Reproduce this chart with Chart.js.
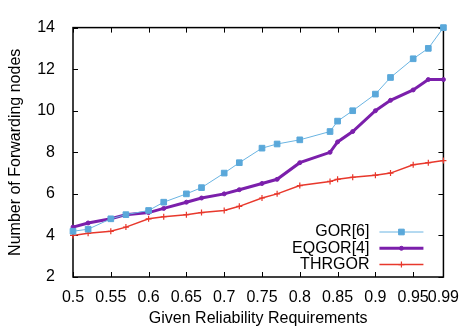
<!DOCTYPE html>
<html>
<head>
<meta charset="utf-8">
<title>Forwarding nodes vs reliability</title>
<script src="https://cdn.jsdelivr.net/npm/chart.js@4/dist/chart.umd.min.js"></script>
<style>
  html, body { margin: 0; padding: 0; background: #fff; }
  #wrap { width: 470px; height: 328px; }
</style>
</head>
<body>
<div id="wrap"><canvas id="chart" width="470" height="328"></canvas></div>
<script>
// ---- data ----
const reliability = [0.5, 0.52, 0.55, 0.57, 0.6, 0.62, 0.65, 0.67, 0.7, 0.72, 0.75,
                     0.77, 0.8, 0.84, 0.85, 0.87, 0.9, 0.92, 0.95, 0.97, 0.99];
const gorNodes    = [4.2, 4.3, 4.8, 5.0, 5.2, 5.6, 6.0, 6.3, 7.0, 7.5, 8.2,
                     8.4, 8.6, 9.0, 9.5, 10.0, 10.8, 11.6, 12.5, 13.0, 14.0];
const eqgorNodes  = [4.4, 4.6, 4.8, 5.0, 5.1, 5.3, 5.6, 5.8, 6.0, 6.2, 6.5,
                     6.7, 7.5, 8.0, 8.5, 9.0, 10.0, 10.5, 11.0, 11.5, 11.5];
const thrgorNodes = [4.0, 4.1, 4.2, 4.4, 4.8, 4.9, 5.0, 5.1, 5.2, 5.4, 5.8,
                     6.0, 6.4, 6.6, 6.7, 6.8, 6.9, 7.0, 7.4, 7.5, 7.6];
const seriesNames = ["GOR[6]", "EQGOR[4]", "THRGOR"];
const xTicks = [0.5, 0.55, 0.6, 0.65, 0.7, 0.75, 0.8, 0.85, 0.9, 0.95, 0.99];
const yTicks = [2, 4, 6, 8, 10, 12, 14];

const FONT = { family: "'Liberation Sans', Arial, sans-serif", size: 16 };

const toPoints = (ys) => reliability.map((x, i) => ({ x, y: ys[i] }));

// box frame with inward tick marks on all four sides (gnuplot look)
const framePlugin = {
  id: "frame",
  beforeDatasetsDraw(chart) {
    const { ctx, chartArea: a, scales } = chart;
    const len = 5;
    ctx.save();
    ctx.strokeStyle = "#000";
    ctx.lineWidth = 1.5;
    ctx.strokeRect(a.left, a.top, a.right - a.left, a.bottom - a.top);
    ctx.lineWidth = 1;
    ctx.beginPath();
    scales.x.ticks.forEach((t) => {
      const px = Math.round(scales.x.getPixelForValue(t.value)) + 0.5;
      ctx.moveTo(px, a.bottom); ctx.lineTo(px, a.bottom - len);
      ctx.moveTo(px, a.top); ctx.lineTo(px, a.top + len);
    });
    scales.y.ticks.forEach((t) => {
      const py = Math.round(scales.y.getPixelForValue(t.value)) + 0.5;
      ctx.moveTo(a.left, py); ctx.lineTo(a.left + len, py);
      ctx.moveTo(a.right, py); ctx.lineTo(a.right - len, py);
    });
    ctx.stroke();
    ctx.restore();
  },
};

// key in the lower right corner: label first, then the line sample
const keyPlugin = {
  id: "key",
  afterDraw(chart) {
    const { ctx, chartArea: a } = chart;
    const textRight = a.right - 74;
    const lineL = a.right - 64, lineR = a.right - 20;
    ctx.save();
    ctx.font = `${FONT.size}px ${FONT.family}`;
    ctx.textAlign = "right";
    ctx.textBaseline = "middle";
    chart.data.datasets.forEach((ds, i) => {
      const y = a.bottom - 45 + i * 16.3;
      ctx.fillStyle = "#000";
      ctx.fillText(ds.label, textRight, y);
      ctx.strokeStyle = ds.borderColor;
      ctx.lineWidth = ds.borderWidth;
      ctx.beginPath();
      ctx.moveTo(lineL, y); ctx.lineTo(lineR, y);
      ctx.stroke();
      ctx.fillStyle = ds.pointBackgroundColor;
      ctx.strokeStyle = ds.pointBorderColor;
      ctx.lineWidth = ds.pointBorderWidth;
      Chart.helpers.drawPoint(ctx, { pointStyle: ds.pointStyle, radius: ds.pointRadius, rotation: 0, borderWidth: ds.pointBorderWidth }, (lineL + lineR) / 2, y);
    });
    ctx.restore();
  },
};

new Chart(document.getElementById("chart"), {
  type: "line",
  data: {
    datasets: [
      {
        label: seriesNames[0], data: toPoints(gorNodes),
        borderColor: "#6ab4e2", borderWidth: 1,
        pointStyle: "rect", pointRadius: 4,
        pointBackgroundColor: "#5aa8da", pointBorderColor: "#5aa8da", pointBorderWidth: 1,
        clip: false,
      },
      {
        label: seriesNames[1], data: toPoints(eqgorNodes),
        borderColor: "#7b1fab", borderWidth: 3,
        pointStyle: "circle", pointRadius: 2,
        pointBackgroundColor: "#7b1fab", pointBorderColor: "#7b1fab", pointBorderWidth: 1,
        clip: false,
      },
      {
        label: seriesNames[2], data: toPoints(thrgorNodes),
        borderColor: "#e8382c", borderWidth: 1.5,
        pointStyle: "cross", pointRadius: 3,
        pointBackgroundColor: "#e8382c", pointBorderColor: "#e8382c", pointBorderWidth: 1.2,
        clip: false,
      },
    ],
  },
  options: {
    responsive: false,
    animation: false,
    devicePixelRatio: 1,
    layout: { padding: { top: 15, right: 19, left: 0, bottom: 0 } },
    plugins: { legend: { display: false }, tooltip: { enabled: false } },
    scales: {
      x: {
        type: "linear", min: 0.5, max: 0.99,
        afterBuildTicks: (s) => { s.ticks = xTicks.map((v) => ({ value: v })); },
        afterFit: (s) => { s.height = 51; },
        grid: { display: false, drawTicks: false },
        border: { display: false },
        ticks: { autoSkip: false, maxRotation: 0, padding: 11, color: "#000", font: FONT, callback: (v) => String(v) },
        title: { display: true, text: "Given Reliability Requirements", color: "#000", font: FONT, padding: { top: 0, bottom: 0 } },
      },
      y: {
        min: 2, max: 14,
        afterBuildTicks: (s) => { s.ticks = yTicks.map((v) => ({ value: v })); },
        afterFit: (s) => { s.width = 73; },
        grid: { display: false, drawTicks: false },
        border: { display: false },
        ticks: { padding: 18, color: "#000", font: FONT, callback: (v) => String(v) },
        title: { display: true, text: "Number of Forwarding nodes", color: "#000", font: FONT, padding: { top: 6, bottom: 0 } },
      },
    },
  },
  plugins: [framePlugin, keyPlugin],
});
</script>
</body>
</html>
